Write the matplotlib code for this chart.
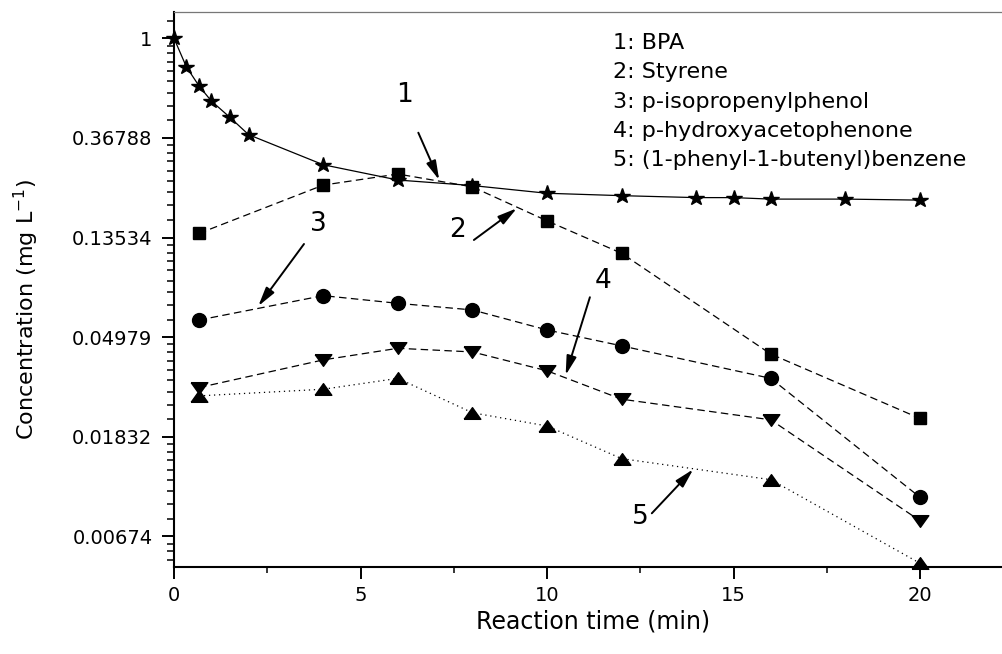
import numpy as np
import matplotlib
matplotlib.use("Agg")
import matplotlib.pyplot as plt
from matplotlib.ticker import FixedLocator, NullFormatter, FixedFormatter

# ---- data ----
t_bpa = [0, 0.33, 0.67, 1, 1.5, 2, 4, 6, 8, 10, 12, 14, 15, 16, 18, 20]
c_bpa = [1.0, 0.752, 0.62, 0.533, 0.452, 0.38, 0.281, 0.241, 0.228, 0.211,
         0.206, 0.202, 0.202, 0.199, 0.199, 0.197]
t_int = [0.67, 4, 6, 8, 10, 12, 16, 20]
c_styrene = [0.141, 0.229, 0.256, 0.225, 0.16, 0.1155, 0.042, 0.022]
c_isoprop = [0.0591, 0.0755, 0.0699, 0.0654, 0.0535, 0.0456, 0.0329, 0.00997]
c_hydroxy = [0.030, 0.0396, 0.0445, 0.0429, 0.0355, 0.0267, 0.0217, 0.00788]
c_butenyl = [0.0276, 0.0295, 0.0329, 0.0233, 0.0204, 0.0147, 0.0119, 0.00514]

legend_lines = ["1: BPA", "2: Styrene", "3: p-isopropenylphenol",
                "4: p-hydroxyacetophenone", "5: (1-phenyl-1-butenyl)benzene"]
y_tick_vals = [1.0, 0.36788, 0.13534, 0.04979, 0.01832, 0.00674]
y_tick_labels = ["1", "0.36788", "0.13534", "0.04979", "0.01832", "0.00674"]
x_ticks = [0, 5, 10, 15, 20]

plt.rcParams['font.family'] = ['DejaVu Sans']

W, H = 1003, 654
fig = plt.figure(figsize=(W / 100, H / 100), dpi=100)
ax_left, ax_bottom_px, ax_top_px = 174, 566.7, 11.7
ax = fig.add_axes([ax_left / W, 1 - ax_bottom_px / H, (W - ax_left) / W,
                   (ax_bottom_px - ax_top_px) / H])

ax.set_yscale('log', base=np.e)
ax.set_xlim(0, (W - ax_left) / 37.3)
ax.set_ylim(np.exp(-5.305), np.exp(0.267))

dash = (0, (6, 3.5))
dot = (0, (1, 3))
ax.plot(t_bpa, c_bpa, color='black', lw=0.9, ls='-', marker='*', ms=11.5,
        clip_on=False, zorder=5)
ax.plot(t_int, c_styrene, color='black', lw=0.9, ls=dash, marker='s', ms=9,
        clip_on=False, zorder=4)
ax.plot(t_int, c_isoprop, color='black', lw=0.9, ls=dash, marker='o', ms=10,
        clip_on=False, zorder=4)
down_tri = [(-1, 0.7), (1, 0.7), (0, -0.7), (-1, 0.7)]
up_tri = [(-1, -0.7), (1, -0.7), (0, 0.7), (-1, -0.7)]
ax.plot(t_int, c_hydroxy, color='black', lw=0.9, ls=dash, marker=down_tri,
        ms=12, clip_on=False, zorder=4)
ax.plot(t_int, c_butenyl, color='black', lw=0.9, ls=dot, marker=up_tri,
        ms=12, clip_on=False, zorder=4)

# ticks
ax.yaxis.set_major_locator(FixedLocator(y_tick_vals))
ax.yaxis.set_major_formatter(FixedFormatter(y_tick_labels))
minor = []
for k in range(-7, 2):
    lo, hi = np.exp(k - 1), np.exp(k)
    minor.extend(np.linspace(lo, hi, 10)[1:-1])
ax.yaxis.set_minor_locator(FixedLocator(minor))
ax.yaxis.set_minor_formatter(NullFormatter())
ax.set_xticks(x_ticks)
ax.set_xticklabels([str(v) for v in x_ticks])
ax.xaxis.set_minor_locator(FixedLocator([2.5, 7.5, 12.5, 17.5]))
ax.xaxis.set_minor_formatter(NullFormatter())

ax.tick_params(axis='both', which='major', direction='out', length=8.5,
               width=1.4, labelsize=14, color='black')
ax.tick_params(axis='y', which='major', pad=7)
ax.tick_params(axis='x', which='major', pad=5.5)
ax.tick_params(axis='y', which='minor', direction='out', length=5, width=1.1)
ax.tick_params(axis='x', which='minor', direction='out', length=4.3, width=1.1)
ax.tick_params(top=False, right=False, which='both')

for s in ['left', 'bottom']:
    ax.spines[s].set_linewidth(1.5)
    ax.spines[s].set_color('black')
ax.spines['right'].set_visible(False)
ax.spines['top'].set_color('#777777')
ax.spines['top'].set_linewidth(0.9)

# axis labels
fig.text(593 / W, 1 - 621 / H, "Reaction time (min)", fontsize=17,
         ha='center', va='center')
fig.text(26 / W, 1 - 310 / H, r"Concentration (mg L$^{-1}$)", fontsize=16,
         rotation=90, ha='center', va='center')

# legend text
for i, s in enumerate(legend_lines):
    fig.text(613 / W, 1 - (49.3 + 29.2 * i) / H, s, fontsize=16,
             ha='left', va='baseline')

# annotations
arrow = dict(arrowstyle='-|>,head_length=1.15,head_width=0.3', color='black',
             lw=1.4, mutation_scale=10, shrinkA=0, shrinkB=0)
notes = [("1", (6.19, 0.566), (6.55, 0.3876), (7.11, 0.2411)),
         ("2", (7.59, 0.1459), (8.04, 0.132), (9.19, 0.1814)),
         ("3", (3.87, 0.155), (3.485, 0.1268), (2.26, 0.068)),
         ("4", (11.51, 0.0877), (11.15, 0.0743), (10.5, 0.034)),
         ("5", (12.51, 0.00816), (12.81, 0.00849), (13.92, 0.0132))]
for lab, tpos, start, tip in notes:
    ax.text(tpos[0], tpos[1], lab, fontsize=19, ha='center', va='center')
    ax.annotate("", xy=tip, xytext=start, arrowprops=arrow)

fig.savefig("out.png", dpi=100)
